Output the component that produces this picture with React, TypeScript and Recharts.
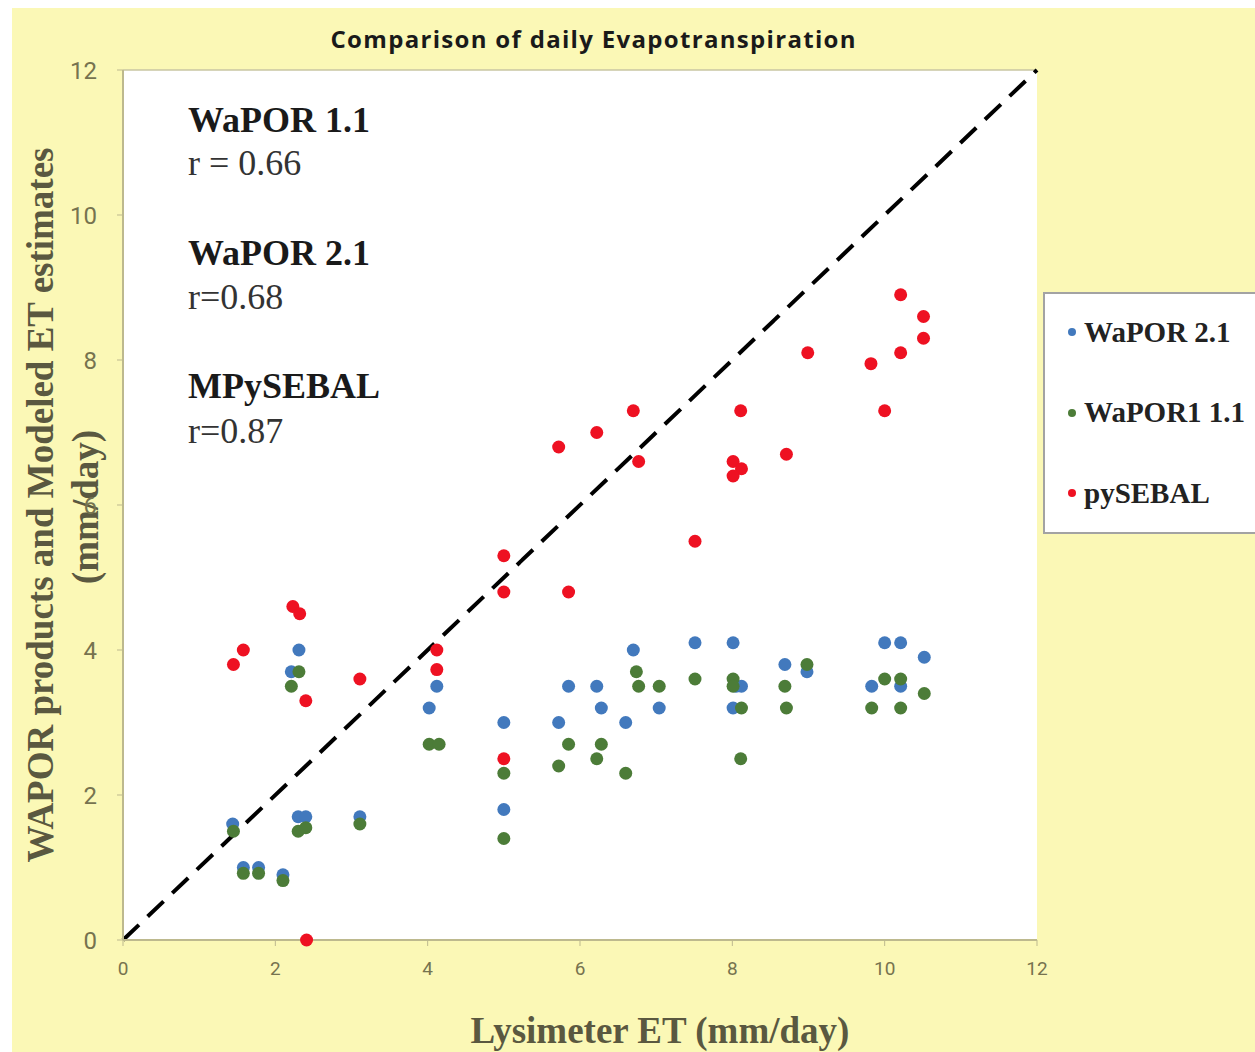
import {
  ScatterChart,
  Scatter,
  XAxis,
  YAxis,
  CartesianGrid,
  ReferenceLine,
  Legend,
} from 'recharts';

// Lysimeter ET (x) vs modeled ET (y), mm/day
const WAPOR21_X = [1.44, 1.58, 1.78, 2.1, 2.21, 2.31, 2.3, 2.4, 3.11, 4.02, 4.12, 5.0, 5.0, 5.72, 5.85, 6.22, 6.28, 6.6, 6.7, 7.04, 7.51, 8.01, 8.05, 8.12, 8.01, 8.69, 8.98, 10.0, 10.21, 10.52, 9.83, 10.21];
const WAPOR21_Y = [1.6, 1.0, 1.0, 0.9, 3.7, 4.0, 1.7, 1.7, 1.7, 3.2, 3.5, 3.0, 1.8, 3.0, 3.5, 3.5, 3.2, 3.0, 4.0, 3.2, 4.1, 4.1, 3.5, 3.5, 3.2, 3.8, 3.7, 4.1, 4.1, 3.9, 3.5, 3.5];

const WAPOR11_X = [1.45, 1.58, 1.78, 2.1, 2.31, 2.21, 2.3, 2.4, 3.11, 4.02, 4.15, 5.0, 5.0, 5.72, 5.85, 6.22, 6.28, 6.6, 6.74, 6.77, 7.04, 7.51, 8.01, 8.01, 8.12, 8.11, 8.69, 8.71, 8.98, 10.0, 10.21, 10.52, 9.83, 10.21];
const WAPOR11_Y = [1.5, 0.92, 0.92, 0.82, 3.7, 3.5, 1.5, 1.55, 1.6, 2.7, 2.7, 2.3, 1.4, 2.4, 2.7, 2.5, 2.7, 2.3, 3.7, 3.5, 3.5, 3.6, 3.6, 3.5, 3.2, 2.5, 3.5, 3.2, 3.8, 3.6, 3.6, 3.4, 3.2, 3.2];

const PYSEBAL_X = [1.45, 1.58, 2.23, 2.32, 2.4, 2.41, 3.11, 4.12, 4.12, 5.0, 5.0, 5.0, 5.72, 5.85, 6.22, 6.7, 6.77, 7.51, 8.01, 8.12, 8.01, 8.11, 8.71, 8.99, 9.82, 10.0, 10.21, 10.21, 10.51, 10.51];
const PYSEBAL_Y = [3.8, 4.0, 4.6, 4.5, 3.3, 0, 3.6, 4.0, 3.73, 5.3, 4.8, 2.5, 6.8, 4.8, 7.0, 7.3, 6.6, 5.5, 6.6, 6.5, 6.4, 7.3, 6.7, 8.1, 7.95, 7.3, 8.9, 8.1, 8.6, 8.3];

const AXIS_TICKS = [0, 2, 4, 6, 8, 10, 12];

const SERIES = [
  { name: 'WaPOR 2.1', xs: WAPOR21_X, ys: WAPOR21_Y, color: '#4279bd' },
  { name: 'WaPOR1 1.1', xs: WAPOR11_X, ys: WAPOR11_Y, color: '#4c7c38' },
  { name: 'pySEBAL', xs: PYSEBAL_X, ys: PYSEBAL_Y, color: '#ee1122' },
];

const ANNOTATIONS = [
  { head: 'WaPOR 1.1', r: 'r = 0.66' },
  { head: 'WaPOR 2.1', r: 'r=0.68' },
  { head: 'MPySEBAL', r: 'r=0.87' },
];

const SERIF = '"Liberation Serif", "Times New Roman", serif';
const AXIS_COLOR = '#bdb98e';
const TICK_COLOR = '#76734f';
const BG = '#fbf8b6';

const toPoints = (xs: number[], ys: number[]) => xs.map((x, i) => ({ x, y: ys[i] }));

function LegendBox() {
  return (
    <div
      style={{
        width: 240,
        height: 242,
        background: '#fff',
        border: '2px solid #a3a3a3',
        boxSizing: 'border-box',
        position: 'relative',
        fontFamily: SERIF,
      }}
    >
      {SERIES.map((s, i) => (
        <div
          key={s.name}
          style={{ position: 'absolute', left: 23, top: 19 + i * 80.5, height: 38, display: 'flex', alignItems: 'center' }}
        >
          <span style={{ width: 8, height: 8, borderRadius: 4, background: s.color, marginRight: 8 }} />
          <span style={{ fontSize: 29, fontWeight: 'bold', color: '#222' }}>{s.name}</span>
        </div>
      ))}
    </div>
  );
}

export default function App() {
  return (
    <div style={{ position: 'fixed', left: 12, top: 8, width: 1243, height: 1044, background: BG }}>
      <ScatterChart width={1243} height={1044} margin={{ top: 62, right: 218, bottom: 0, left: 0 }}>
        <CartesianGrid fill="#ffffff" horizontal={false} vertical={false} />
        <XAxis
          type="number"
          dataKey="x"
          domain={[0, 12]}
          ticks={AXIS_TICKS}
          height={112}
          axisLine={{ stroke: AXIS_COLOR, strokeWidth: 2 }}
          tickLine={{ stroke: AXIS_COLOR }}
          tickSize={6}
          tickMargin={16}
          tick={{ fill: TICK_COLOR, fontSize: 19, fontFamily: 'Roboto, sans-serif' }}
          label={{
            content: ({ viewBox }: any) => (
              <text
                x={viewBox.x + viewBox.width / 2 + 80}
                y={viewBox.y + 103}
                textAnchor="middle"
                fontFamily={SERIF}
                fontWeight="bold"
                fontSize={37}
                fill="#5a5840"
              >
                Lysimeter ET (mm/day)
              </text>
            ),
          }}
        />
        <YAxis
          type="number"
          dataKey="y"
          domain={[0, 12]}
          ticks={AXIS_TICKS}
          width={111}
          axisLine={{ stroke: AXIS_COLOR, strokeWidth: 2 }}
          tickLine={{ stroke: AXIS_COLOR }}
          tickSize={6}
          tickMargin={20}
          tick={{ fill: TICK_COLOR, fontSize: 24, fontFamily: 'Roboto, sans-serif' }}
          label={{
            content: ({ viewBox }: any) => {
              const cy = viewBox.y + viewBox.height / 2;
              return (
                <g fontFamily={SERIF} fontWeight="bold" fontSize={37} fill="#5a5840">
                  <text x={28} y={cy} textAnchor="middle" dominantBaseline="central" transform={`rotate(-90, 28, ${cy})`}>
                    WAPOR products and Modeled ET estimates
                  </text>
                  <text x={73} y={cy + 2} textAnchor="middle" dominantBaseline="central" transform={`rotate(-90, 73, ${cy + 2})`}>
                    (mm/day)
                  </text>
                </g>
              );
            },
          }}
        />
        <ReferenceLine y={12} stroke="#c9c6a2" strokeWidth={1.5} />
        <ReferenceLine
          segment={[{ x: 0, y: 0 }, { x: 12, y: 12 }]}
          stroke="#000"
          strokeWidth={4}
          strokeDasharray="22 12"
        />
        {SERIES.map(s => (
          <Scatter
            key={s.name}
            name={s.name}
            data={toPoints(s.xs, s.ys)}
            fill={s.color}
            shape={(p: any) => <circle cx={p.cx} cy={p.cy} r={6.5} fill={s.color} />}
            isAnimationActive={false}
          />
        ))}
        <Legend
          layout="horizontal"
          align="center"
          verticalAlign="middle"
          content={() => <LegendBox />}
          wrapperStyle={{ left: 1031, top: 284, width: 240, height: 242 }}
        />
      </ScatterChart>
      <svg
        width={1243}
        height={1044}
        style={{ position: 'absolute', left: 0, top: 0, pointerEvents: 'none' }}
      >
        <text
          x={581}
          y={40}
          textAnchor="middle"
          fontFamily='"Open Sans", sans-serif'
          fontWeight="bold"
          fontSize={24}
          textLength={525}
          lengthAdjust="spacing"
          fill="#1a1a1a"
        >
          Comparison of daily Evapotranspiration
        </text>
        {ANNOTATIONS.map((a, i) => (
          <g key={a.head} fontFamily={SERIF} fontSize={36}>
            <text x={176} y={124 + i * 133} fontWeight="bold" fill="#1a1a1a">
              {a.head}
            </text>
            <text x={176} y={167 + i * 134} fill="#333">
              {a.r}
            </text>
          </g>
        ))}
      </svg>
    </div>
  );
}
